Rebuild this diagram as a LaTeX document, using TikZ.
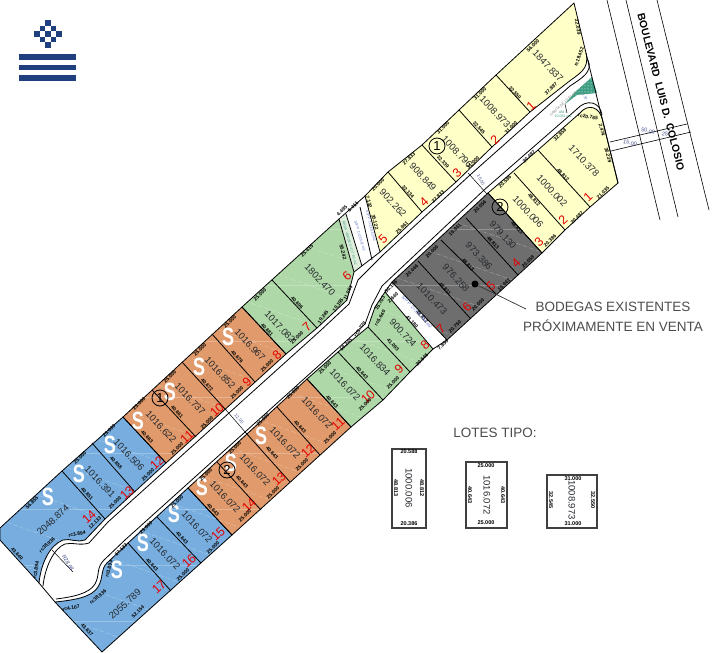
\documentclass[tikz,border=0pt]{standalone}
\usepackage{fontspec}
\usepackage{graphicx}
\setmainfont{Liberation Sans}
\usetikzlibrary{patterns}
\definecolor{lotyellow}{HTML}{FFFFC8}
\definecolor{lotgreen}{HTML}{AED8A8}
\definecolor{lotorange}{HTML}{E09A6B}
\definecolor{lotblue}{HTML}{77AEDF}
\definecolor{lotgray}{HTML}{6E6E6E}
\definecolor{logoblue}{HTML}{1F3F7F}
\definecolor{ink}{HTML}{26292E}
\definecolor{planblue}{HTML}{5C6FC4}
\definecolor{planteal}{HTML}{3E9E84}
\tikzset{
  edge/.style={draw=black,line width=0.8pt,line join=round},
  streak/.style={draw=white,line width=0.4pt,dash pattern=on 5pt off 2pt,opacity=0.35},
  hstreak/.style={draw=white,line width=0.4pt,opacity=0.25},
  areatxt/.style={inner sep=0,text=ink,font=\fontsize{9.5}{10}\selectfont},
  rednum/.style={inner sep=0,text=red!90!black,font=\fontsize{12.5}{13}\selectfont,rotate=43},
  bigs/.style={inner sep=0,text=white,font=\fontsize{25}{26}\bfseries\selectfont},
  dimtxt/.style={inner sep=0,text=black,font=\fontsize{5}{6}\bfseries\selectfont},
  legdim/.style={inner sep=0,text=black,font=\fontsize{5.5}{6}\bfseries\selectfont},
  roundmark/.style={circle,draw=black,line width=0.8pt,minimum size=16pt,inner sep=0,font=\fontsize{13}{14}\selectfont},
  smalltxt/.style={inner sep=0,font=\fontsize{3.6}{4}\selectfont},
  roadtxt/.style={inner sep=0,text=planblue!70!black,font=\fontsize{5.5}{6}\selectfont},
  bigtxt/.style={inner sep=0,text=black!70,font=\fontsize{13.5}{15}\selectfont},
  legendbox/.style={draw=black!75,line width=1.1pt},
  blvd/.style={draw=black,line width=0.6pt}
}
\newcommand\lotA[3]{\node[areatxt,rotate=-47] at (#1,#2) {#3};}
\newcommand\lotU[3]{\node[areatxt,rotate=43] at (#1,#2) {#3};}
\newcommand\lotR[3]{\node[rednum] at (#1,#2) {#3};}
\newcommand\lotS[2]{\node[bigs] at (#1,#2) {\scalebox{0.72}[1]{S}};}
\newcommand\dimU[3]{\node[dimtxt,rotate=43] at (#1,#2) {#3};}
\newcommand\dimD[3]{\node[dimtxt,rotate=-47] at (#1,#2) {#3};}
\newcommand\dimT[4]{\node[dimtxt,rotate=#3] at (#1,#2) {#4};}
\newcommand\legT[4]{\node[legdim,rotate=#3] at (#1,#2) {#4};}
\newcommand\streaks[1]{\begin{scope}\clip #1;
  \foreach \i in {-240,-202,...,660} {\draw[streak] (0,\i) -- (720,\i+250);}
  \foreach \i in {5,61,...,660} {\draw[hstreak] (0,\i) -- (720,\i);}
\end{scope}}
\def\pBlueA{(0,528) -- (62,471) -- (123,417) -- (166,463) -- (105,519) -- (85,540) .. controls (78,543) and (70,538) .. (63,540) .. controls (50,545) and (41,563) .. (39,583) -- (0,540) -- cycle}
\def\pOrangeA{(123,417) -- (242,307) -- (286,354) -- (166,463) -- cycle}
\def\pGreenA{(242,307) -- (339,219) -- (354,272) -- (347,300) -- (317,328) -- (286,354) -- cycle}
\def\pYellowA{(365,196) -- (388,172) -- (422,145) -- (459,110) -- (496,75) -- (574,3) -- (586,53) .. controls (590,70) and (578,74) .. (567,83) -- (530,112) -- (492,147) -- (456,182) -- (422,212) -- (380,252) -- cycle}
\def\pYellowB{(488,193) -- (538,150) -- (580,113) .. controls (587,104) and (600,105) .. (603,122) -- (618,183) -- (590,207) -- (565,230) -- (542,253) -- cycle}
\def\pGray{(392,282) -- (488,193) -- (542,253) -- (447,340) -- cycle}
\def\pGreenB{(385,292) -- (433,349) -- (410,372) -- (383,400) -- (351,427) -- (307,379) -- (338,352) -- (368,327) -- (375,307) -- cycle}
\def\pOrangeB{(307,379) -- (351,427) -- (232,535) -- (188,488) -- cycle}
\def\pBlueB{(188,488) -- (232,535) -- (102,652) -- (55,602) .. controls (75,600) and (92,597) .. (98,587) .. controls (104,577) and (100,570) .. (107,563) -- (128,543) -- cycle}
\begin{document}
\begin{tikzpicture}[x=1pt,y=-1pt]
\useasboundingbox (0,0) rectangle (720,653);
% boulevard
\draw[blvd] (607,0) -- (660,220);
\draw[blvd] (626,0) -- (678,217);
\draw[blvd] (657,0) -- (709,210);
\draw[blvd] (610,142) -- (687,124);
\draw[blvd] (611,151) -- (691,132);
\node[roadtxt,rotate=-13] at (630,143) {15.00};
\node[roadtxt,rotate=-13] at (648,131) {50.00};
\node[roadtxt,rotate=-13] at (665,134) {25};
\node[inner sep=0,text=black,rotate=-75.5,font=\fontsize{10.4}{11}\bfseries\selectfont] at (661,92) {BOULEVARD\ \ LUIS D.\ \ COLOSIO};
% fills
\fill[lotblue] \pBlueA;
\fill[lotblue] \pBlueB;
\fill[lotorange] \pOrangeA;
\fill[lotorange] \pOrangeB;
\fill[lotgreen] \pGreenA;
\fill[lotgreen] \pGreenB;
\fill[lotyellow] \pYellowA;
\fill[lotyellow] \pYellowB;
\fill[lotgray] \pGray;
\streaks{\pBlueA}
\streaks{\pBlueB}
\streaks{\pOrangeA}
\streaks{\pOrangeB}
\streaks{\pGreenA}
\streaks{\pGreenB}
\streaks{\pGray}
% strips
\fill[white] (346,214) -- (365,196) -- (380,252) -- (354,272) -- cycle;
\fill[lotgreen!40!white] (339,219) -- (346,214) -- (362,266) -- (354,272) -- cycle;
\fill[planteal] (592,77) -- (597,93) -- (577,95) -- (565,104) -- (575,92) -- cycle;
\fill[pattern=dots,pattern color=white] (592,77) -- (597,93) -- (577,95) -- (565,104) -- (575,92) -- cycle;
% outlines
\draw[edge] \pBlueA;
\draw[edge] \pBlueB;
\draw[edge] \pOrangeA;
\draw[edge] \pOrangeB;
\draw[edge] \pGreenA;
\draw[edge] \pGreenB;
\draw[edge] \pYellowA;
\draw[edge] \pYellowB;
\draw[edge] \pGray;
\draw[edge] (385,292) -- (392,282);
\draw[edge] (433,349) -- (447,340);
% entrance and property line
\draw[edge] (586,53) -- (618,183);
\draw[edge] (339,219) -- (365,196);
\draw[edge] (354,272) -- (380,252);
\draw[edge] (346,214) -- (362,266);
\draw[edge] (360,207) -- (372,260);
\draw[edge] (39,583) -- (55,602);
% dividers
\draw[edge] (62,471) -- (105,519);
\draw[edge] (92,443) -- (135,492);
\draw[edge] (152,390) -- (196,437);
\draw[edge] (182,362) -- (226,410);
\draw[edge] (212,334) -- (255,382);
\draw[edge] (272,280) -- (317,328);
\draw[edge] (388,172) -- (422,212);
\draw[edge] (422,145) -- (456,182);
\draw[edge] (459,110) -- (492,147);
\draw[edge] (496,75) -- (530,112);
\draw[edge] (538,150) -- (590,207);
\draw[edge] (514,173) -- (565,230);
\draw[edge] (466,218) -- (518,275);
\draw[edge] (441,240) -- (496,294);
\draw[edge] (418,261) -- (470,318);
\draw[edge] (368,327) -- (410,372);
\draw[edge] (338,352) -- (383,400);
\draw[edge] (277,407) -- (320,455);
\draw[edge] (246,433) -- (290,482);
\draw[edge] (217,462) -- (261,510);
\draw[edge] (157,517) -- (201,563);
\draw[edge] (128,543) -- (171,591);
% sidewalk lines
\draw[edge] (108,522) -- (320,331) -- (349,304) -- (358,280) -- (383,255) -- (470,175) -- (570,86) .. controls (582,78) and (593,72) .. (588,60);
\draw[edge] (43,586) .. controls (45,567) and (54,548) .. (65,544) .. controls (72,542) and (80,546) .. (89,543) -- (108,522);
\draw[edge] (577,109) .. controls (586,99) and (600,101) .. (602,115);
\draw[edge] (125,540) -- (365,324) -- (372,305) -- (382,286) -- (484,190) -- (577,109);
\draw[edge] (56,599) .. controls (72,597) and (89,594) .. (95,584) .. controls (100,575) and (96,568) .. (104,560) -- (125,540);
% road section marks
\draw[edge,line width=0.5pt] (226,410) -- (246,433);
\draw[edge,line width=0.5pt] (468,173) -- (487,194);
\draw[edge,line width=0.5pt] (52,550) -- (73,572);
\node[roadtxt,rotate=-47,font=\fontsize{4.5}{5}\selectfont] at (239,419) {12.00};
\node[roadtxt,rotate=-60,font=\fontsize{4.5}{5}\selectfont] at (481,180) {15.00};
\node[roadtxt,rotate=-60] at (68,563) {R28.68};
% logo
\foreach \dx/\dy in {0/-2,-1/-1,1/-1,-2/0,0/0,2/0,-1/1,1/1,0/2}{\fill[logoblue] ({48+\dx*5.6-2.8},{34+\dy*5.6-2.8}) rectangle ++(5.6,5.6);}
\fill[logoblue] (19,54) rectangle (76,59.5);
\fill[logoblue] (19,64.5) rectangle (76,70);
\fill[logoblue] (19,75) rectangle (76,80.5);
% upper band
\lotU{53}{520}{2048.874}\lotR{89}{517}{14}\lotS{48}{497}
\dimU{32}{503}{56.855}\dimD{17}{554}{43.640}\dimU{95}{523}{12.133}\dimT{77}{534}{10}{rc3.894}\dimT{47}{545}{45}{rc38.936}\dimT{36}{570}{80}{rc3.894}
\lotA{100}{482}{1016.391}\lotR{127}{493}{13}\lotS{79}{474}\dimU{80}{458}{25.000}\dimD{87}{494}{40.851}\dimU{115}{503}{25.000}
\lotA{129}{455}{1016.506}\lotR{157}{463}{12}\lotS{110}{445}\dimU{109}{431}{25.000}\dimD{116}{463}{40.858}\dimU{148}{475}{25.000}
\lotA{161}{427}{1016.622}\lotR{187}{437}{11}\lotS{138}{421}\dimU{139}{404}{25.000}\dimD{147}{437}{40.663}\dimU{177}{449}{25.000}
\lotA{190}{399}{1016.737}\lotR{217}{410}{10}\lotS{170}{392}\dimU{170}{377}{25.000}\dimD{177}{412}{40.661}\dimU{207}{423}{25.000}
\lotA{220}{373}{1016.852}\lotR{247}{382}{9}\lotS{199}{367}\dimU{200}{350}{25.000}\dimD{207}{385}{40.672}\dimU{237}{393}{25.000}
\lotA{250}{345}{1016.967}\lotR{277}{355}{8}\lotS{228}{337}\dimU{230}{322}{25.000}\dimD{237}{357}{40.676}\dimU{267}{366}{25.000}
\lotA{280}{327}{1017.082}\lotR{307}{327}{7}\dimU{260}{295}{25.000}\dimD{267}{330}{40.681}\dimU{297}{338}{25.000}
\lotA{320}{280}{1802.470}\lotR{347}{276}{6}\dimU{307}{251}{25.415}\dimD{297}{303}{40.696}\dimT{323}{317}{55}{19.245}\dimT{338}{305}{55}{10.195}\dimT{348}{293}{65}{11.054}\dimT{343}{252}{-75}{55.242}
\lotA{393}{203}{902.262}\lotR{383}{239}{5}\dimU{378}{185}{20.000}\dimD{408}{192}{32.134}\dimU{402}{228}{25.961}\dimT{375}{222}{-75}{35.122}
\lotA{423}{177}{908.849}\lotR{424}{202}{4}\dimU{409}{159}{27.833}\dimU{438}{197}{27.833}
\lotA{457}{152}{1008.796}\lotR{457}{173}{3}\dimU{443}{128}{31.000}\dimD{443}{162}{32.339}\dimU{473}{163}{31.000}
\lotA{495}{112}{1008.973}\lotR{495}{140}{2}\dimU{480}{94}{31.000}\dimD{479}{128}{32.545}\dimU{511}{128}{31.000}
\lotA{548}{66}{1847.837}\lotR{531}{106}{1}\dimU{533}{46}{56.000}\dimD{515}{93}{32.550}\dimU{551}{89}{37.887}\dimT{578}{27}{-80}{22.039}\dimT{579}{57}{70}{rc19.452}
% lower band
\lotA{584}{161}{1710.378}\lotR{588}{197}{1}\dimU{560}{135}{32.858}\dimD{563}{175}{48.812}\dimU{603}{193}{21.035}\dimT{588}{117}{-10}{rc20.765}\dimT{602}{130}{-75}{2.474}\dimT{608}{155}{-75}{36.239}
\lotA{552}{191}{1000.002}\lotR{563}{220}{2}\dimU{529}{157}{20.487}\dimD{534}{200}{48.812}\dimU{577}{218}{20.487}
\lotA{528}{212}{1000.006}\lotR{539}{242}{3}\dimU{505}{182}{20.586}\dimD{517}{228}{48.813}\dimU{550}{241}{20.386}
\lotA{503}{235}{979.130}\lotR{516}{263}{4}\dimU{480}{207}{20.056}\dimD{493}{243}{48.813}\dimU{528}{262}{20.059}
\lotA{479}{256}{973.386}\lotR{491}{286}{5}\dimU{455}{230}{19.941}\dimD{468}{265}{48.813}\dimU{504}{285}{19.941}
\lotA{456}{278}{976.258}\lotR{467}{307}{6}\dimU{432}{252}{20.000}\dimD{445}{289}{48.811}\dimU{478}{305}{20.000}
\lotA{432}{299}{1010.473}\lotR{441}{329}{7}\dimU{412}{271}{20.446}\dimD{422}{317}{48.812}\dimU{455}{327}{20.750}
\lotA{403}{333}{900.724}\lotR{425}{345}{8}\dimD{412}{322}{41.180}\dimD{393}{345}{41.093}\dimU{422}{360}{20.545}\dimT{380}{303}{60}{15.703}\dimT{380}{318}{60}{rc5.640}\dimU{393}{298}{2.640}\dimT{391}{287}{43}{50.196}\dimU{443}{345}{7.850}
\lotA{375}{360}{1016.834}\lotR{399}{369}{9}\dimU{346}{345}{19.245}\dimT{360}{329}{55}{rc5.778}\dimD{362}{373}{40.643}\dimU{393}{383}{25.000}
\lotA{345}{385}{1016.072}\lotR{368}{397}{10}\dimU{325}{368}{25.000}\dimD{332}{402}{40.643}\dimU{365}{405}{25.000}
\lotA{317}{413}{1016.072}\lotR{338}{424}{11}\dimU{293}{393}{25.000}\dimD{300}{427}{40.643}\dimU{330}{438}{25.000}
\lotA{285}{443}{1016.072}\lotR{308}{451}{12}\lotS{261}{436}\dimU{263}{420}{25.000}\dimD{272}{453}{40.643}\dimU{302}{465}{25.000}
\lotA{255}{470}{1016.072}\lotR{279}{479}{13}\lotS{231}{463}\dimU{235}{448}{25.000}\dimD{242}{482}{40.643}\dimU{273}{493}{25.000}
\lotA{225}{497}{1016.072}\lotR{249}{505}{14}\lotS{202}{487}\dimU{206}{475}{25.000}\dimD{213}{510}{40.643}\dimU{245}{516}{25.000}
\lotA{197}{527}{1016.072}\lotR{218}{534}{15}\lotS{174}{514}\dimU{177}{502}{25.000}\dimD{182}{538}{40.643}\dimU{213}{548}{25.000}
\lotA{165}{554}{1016.072}\lotR{189}{561}{16}\lotS{143}{543}\dimU{146}{528}{25.000}\dimD{152}{565}{40.643}\dimU{183}{575}{25.000}
\lotU{125}{604}{2055.789}\lotR{159}{587}{17}\lotS{117}{570}\dimU{121}{550}{17.133}\dimT{109}{569}{75}{rc3.894}\dimT{98}{597}{40}{rc38.936}\dimT{71}{608}{10}{rc4.107}\dimD{87}{630}{43.637}\dimU{138}{612}{52.154}
% strip notes
\node[smalltxt,text=planteal,rotate=-74] at (350,243) {ÁREA VERDE 2=127.80 m2};
\node[smalltxt,text=planblue,rotate=-74] at (360,236) {S/P P. 1=219.12 m2};
\node[smalltxt,text=planblue,rotate=-76] at (371,226) {S/P P. 1=219.12 m2};
\dimT{342}{211}{43}{4.495}\dimT{353}{207}{43}{6.411}\dimT{369}{202}{-75}{7.132}
\node[smalltxt,text=planblue,rotate=-47,font=\fontsize{4.5}{5}\selectfont] at (417,312) {S/P P. 2=376.094 m2};
% entrance notes
\draw[edge,line width=0.5pt] (565,104) -- (567,113);
\node[smalltxt,text=black!50,rotate=43] at (563,104) {GARITA DE 10.50 m2};
\node[smalltxt,text=planteal,align=center] at (563,114) {AM 1\\10.081 m2};
\node[smalltxt,text=planblue,rotate=-60] at (585,97) {1.50};
% circled marks
\node[roundmark] at (160,398) {1};
\node[roundmark] at (437,146) {1};
\node[roundmark] at (500,207) {2};
\node[roundmark] at (227,470) {2};
% bodegas note
\node[circle,fill=black,minimum size=7pt,inner sep=0] (bdot) at (475,284) {};
\coordinate (bend) at (526,309);
\draw[black!80,line width=0.7pt] (bdot) -- (bend);
\node[bigtxt] at (613,307) {BODEGAS EXISTENTES};
\node[bigtxt] at (613,326) {PRÓXIMAMENTE EN VENTA};
% legend
\node[inner sep=0,text=black!70,font=\fontsize{13.5}{15}\selectfont] at (495,433) {LOTES TIPO:};
\draw[legendbox] (392,449) rectangle (426,528);
\draw[legendbox] (466,462) rectangle (507,528);
\draw[legendbox] (547,475) rectangle (597,528);
\legT{409}{452}{0}{20.588}\legT{409}{524}{0}{20.386}\legT{396}{488}{-90}{48.813}\legT{422}{488}{-90}{48.812}
\node[areatxt,rotate=-90] at (409,488) {1000.006};
\legT{486}{466}{0}{25.000}\legT{486}{523}{0}{25.000}\legT{470}{495}{-90}{40.643}\legT{503}{495}{-90}{40.643}
\node[areatxt,rotate=-90] at (487,495) {1016.072};
\legT{573}{479}{0}{31.000}\legT{573}{524}{0}{31.000}\legT{551}{500}{-90}{32.545}\legT{593}{500}{-90}{32.550}
\node[areatxt,rotate=-90] at (572,500) {1008.973};
\end{tikzpicture}
\end{document}
